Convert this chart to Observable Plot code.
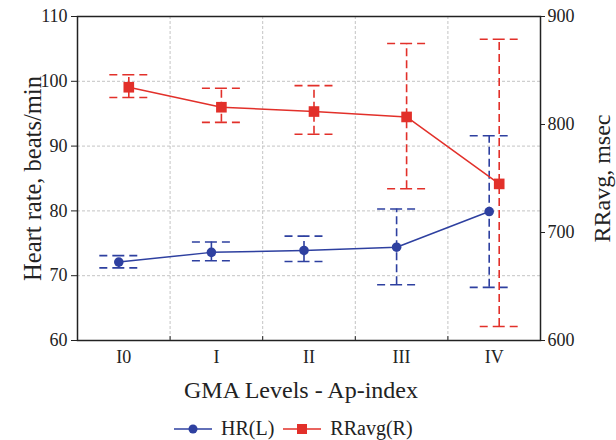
<!DOCTYPE html>
<html><head><meta charset="utf-8">
<script src="https://cdn.jsdelivr.net/npm/d3@7"></script>
<script src="https://cdn.jsdelivr.net/npm/@observablehq/plot@0.6"></script>
<style>
body{margin:0;background:#fff;font-family:"Liberation Serif",serif;}
#chart svg{display:block;}
#legend{height:35px;display:flex;align-items:center;justify-content:flex-start;padding-left:174px;padding-top:12px;box-sizing:border-box;font-size:20px;color:#222;}
#legend .item{display:flex;align-items:center;margin-right:9px;}
#legend svg{margin-right:9px;}
</style></head><body><div id="chart"></div><div id="legend"></div>
<script>
const categories = ["I0", "I", "II", "III", "IV"];
const hr = [72.1, 73.6, 73.9, 74.4, 79.9];
const hrLow = [71.2, 72.3, 72.2, 68.6, 68.2];
const hrHigh = [73.1, 75.2, 76.1, 80.3, 91.6];
const rr = [834.5, 816, 812, 807, 745];
const rrLow = [825, 802, 791, 740.5, 613];
const rrHigh = [846, 833.5, 836, 875, 879];
const leftTicks = [60, 70, 80, 90, 100, 110];
const rightTicks = [600, 700, 800, 900];

const BLUE = "#2e40a0", RED = "#e2302a";
const rrToLeft = v => 60 + (v - 600) / 6;
const leftToRr = v => 600 + (v - 60) * 6;
const rows = categories.map((c, i) => ({
  cat: c, i,
  hr: hr[i], hrLo: hrLow[i], hrHi: hrHigh[i],
  rr: rrToLeft(rr[i]), rrLo: rrToLeft(rrLow[i]), rrHi: rrToLeft(rrHigh[i])
}));
const bounds = categories.slice(1).map((c, i) => i + 0.5);
const capHalf = 0.205;
const capDash = "8,5,12,5,8";
const barDash = "8,4";

const chart = Plot.plot({
  width: 616, height: 405,
  marginLeft: 77, marginRight: 76, marginTop: 16, marginBottom: 65,
  style: {fontFamily: "Liberation Serif, serif", fontSize: "18px", color: "#222", background: "#fff", overflow: "visible"},
  x: {type: "linear", domain: [-0.5, 4.5]},
  y: {domain: [60, 110]},
  marks: [
    Plot.gridY([70, 80, 90, 100], {stroke: "#c4c4c4", strokeOpacity: 1, strokeDasharray: "3,2"}),
    Plot.gridX(bounds, {stroke: "#c4c4c4", strokeOpacity: 1, strokeDasharray: "3,2"}),
    Plot.ruleX(bounds, {y1: 60, y2: 60.6, stroke: "#222", strokeWidth: 1}),
    // HR error bars
    Plot.ruleX(rows, {x: "i", y1: "hrLo", y2: "hrHi", dx: -5, stroke: BLUE, strokeWidth: 1.6, strokeDasharray: barDash}),
    Plot.ruleY(rows, {y: "hrHi", x1: d => d.i - capHalf, x2: d => d.i + capHalf, dx: -5, stroke: BLUE, strokeWidth: 1.6, strokeDasharray: capDash}),
    Plot.ruleY(rows, {y: "hrLo", x1: d => d.i - capHalf, x2: d => d.i + capHalf, dx: -5, stroke: BLUE, strokeWidth: 1.6, strokeDasharray: capDash}),
    // RR error bars
    Plot.ruleX(rows, {x: "i", y1: "rrLo", y2: "rrHi", dx: 5, stroke: RED, strokeWidth: 1.6, strokeDasharray: barDash}),
    Plot.ruleY(rows, {y: "rrHi", x1: d => d.i - capHalf, x2: d => d.i + capHalf, dx: 5, stroke: RED, strokeWidth: 1.6, strokeDasharray: capDash}),
    Plot.ruleY(rows, {y: "rrLo", x1: d => d.i - capHalf, x2: d => d.i + capHalf, dx: 5, stroke: RED, strokeWidth: 1.6, strokeDasharray: capDash}),
    // lines + markers
    Plot.line(rows, {x: "i", y: "hr", dx: -5, stroke: BLUE, strokeWidth: 1.5}),
    Plot.dot(rows, {x: "i", y: "hr", dx: -5, r: 4.8, fill: BLUE, stroke: "none"}),
    Plot.line(rows, {x: "i", y: "rr", dx: 5, stroke: RED, strokeWidth: 1.5}),
    Plot.dot(rows, {x: "i", y: "rr", dx: 5, r: 6, symbol: "square", fill: RED, stroke: "none"}),
    Plot.frame({stroke: "#222", strokeWidth: 1.5}),
    Plot.axisY(leftTicks, {anchor: "left", tickSize: 6, tickPadding: 4, label: null}),
    Plot.axisY(rightTicks.map(rrToLeft), {anchor: "right", tickSize: 4, tickPadding: 3, label: null, tickFormat: d => String(Math.round(leftToRr(d)))}),
    Plot.axisX([0, 1, 2, 3, 4], {anchor: "bottom", tickSize: 0, tickPadding: 10, label: null, tickFormat: i => categories[i]}),
    Plot.text(["Heart rate, beats/min"], {frameAnchor: "left", dx: -44, rotate: -90, textAnchor: "middle", lineAnchor: "middle", fontSize: 24.5, fill: "#222"}),
    Plot.text(["RRavg, msec"], {frameAnchor: "right", dx: 62, rotate: -90, textAnchor: "middle", lineAnchor: "middle", fontSize: 24, fill: "#222"}),
    Plot.text(["GMA Levels - Ap-index"], {frameAnchor: "bottom", dy: 50, dx: -8, textAnchor: "middle", lineAnchor: "middle", fontSize: 24, fill: "#222"})
  ]
});
document.getElementById("chart").appendChild(chart);

const legendItems = [
  {label: "HR(L)", color: BLUE, shape: "circle"},
  {label: "RRavg(R)", color: RED, shape: "square"}
];
const legend = document.getElementById("legend");
for (const it of legendItems) {
  const item = document.createElement("span");
  item.className = "item";
  const marker = it.shape === "circle"
    ? `<circle cx="19" cy="8" r="4.5" fill="${it.color}"/>`
    : `<rect x="14" y="3" width="10" height="10" fill="${it.color}"/>`;
  item.innerHTML = `<svg width="38" height="16"><line x1="0" y1="8" x2="38" y2="8" stroke="${it.color}" stroke-width="1.5"/>${marker}</svg><span>${it.label}</span>`;
  legend.appendChild(item);
}
</script>
</body></html>
